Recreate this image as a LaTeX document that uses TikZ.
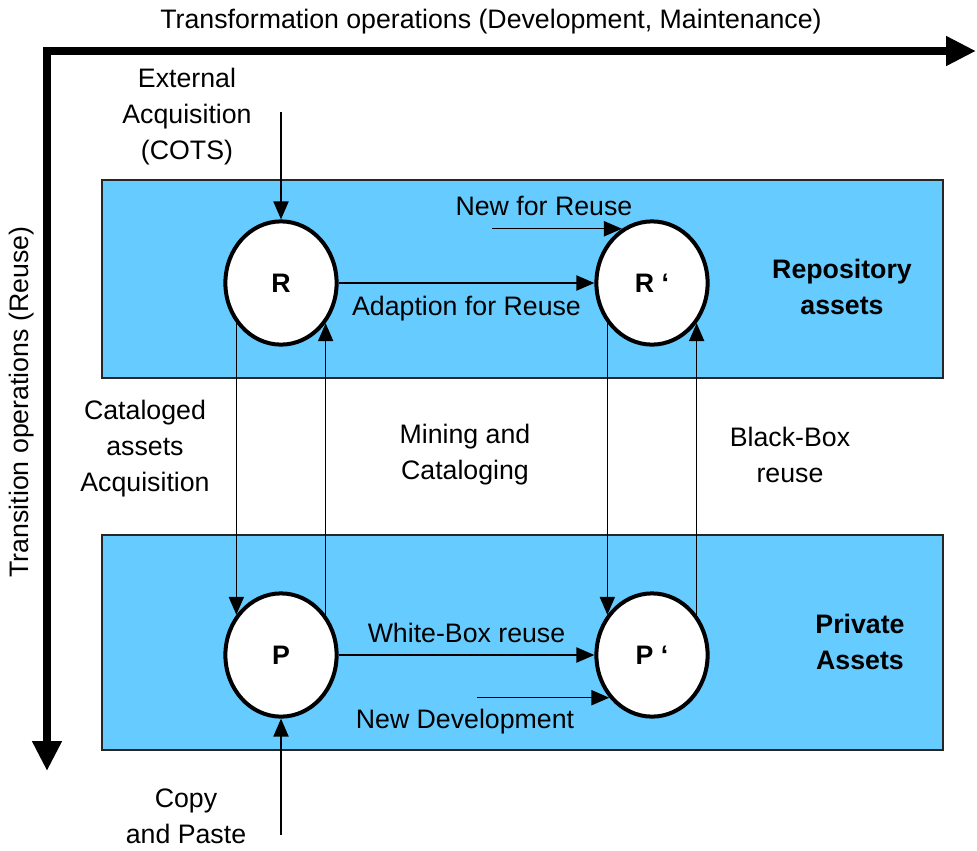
\documentclass[tikz,border=0pt]{standalone}
\usepackage{fontspec}
\setmainfont{Liberation Sans}
\usetikzlibrary{arrows.meta,shapes.geometric}

\definecolor{areablue}{RGB}{102,204,255}

\tikzset{%
  % Specifications for style of nodes:
         asset/.style = {ellipse, draw = black, line width=2.85pt, fill=white, minimum width=2.78cm, minimum height=3.08cm, inner sep=0pt, font=\fontsize{19pt}{25.6pt}\selectfont\bfseries},
         txt/.style = {align=center, inner sep=3pt},
         boldtxt/.style = {txt, font=\fontsize{19pt}{25.6pt}\selectfont\bfseries},
         area/.style = {draw = black!85, line width=0.9pt, fill=areablue},
         flow/.style = {-{Triangle[length=0.45cm, width=0.38cm]}, line width=1pt},
         axis/.style = {line width=0.2cm, {Triangle[length=0.75cm, width=0.7cm]}-{Triangle[length=0.75cm, width=0.7cm]}},
}

\begin{document}
\begin{tikzpicture}[x=0.025cm, y=-0.025cm, every node/.style={font=\fontsize{19pt}{25.6pt}\selectfont}]
    \useasboundingbox (0,0) rectangle (977,850);

    % Draw areas
    \draw[area] (102,180) rectangle (943,378);
    \draw[area] (102,535) rectangle (943,750);

    % Draw axes
    \coordinate (origin) at (47,51);
    \coordinate (xend)   at (976,51);
    \coordinate (yend)   at (47,771);
    \draw[axis] (xend) -- (origin) -- (yend);
    \node (transform) [txt]            at (491,22)  {Transformation operations (Development, Maintenance)};
    \node (transit)   [txt, rotate=90] at (22,402)  {Transition operations (Reuse)};

    % Draw nodes
    \node (R)  [asset] at (281,283) {R};
    \node (R2) [asset] at (652,283) {R ‘};
    \node (P)  [asset] at (281,655) {P};
    \node (P2) [asset] at (652,655) {P ‘};

    \node (repo)    [boldtxt] at (842,287) {Repository\\assets};
    \node (private) [boldtxt] at (860,642) {Private\\Assets};

    \node (ext)     [txt] at (187,117) {External\\Acquisition\\(COTS)};
    \node (catalog) [txt] at (145,449) {Cataloged\\assets\\Acquisition};
    \node (mining)  [txt] at (465,455) {Mining and\\Cataloging};
    \node (blackbox)[txt] at (790,455) {Black-Box\\reuse};
    \node (copy)    [txt] at (186,816) {Copy\\and Paste};
    \node (newdevtxt)[txt] at (465,722) {New Development};

    % Draw arrows
    \coordinate (extin)  at (281,112);
    \coordinate (copyin) at (281,835);
    \path (R2.119) ++(-130,0) coordinate (newreuse);
    \path (P2.225) ++(-132,0) coordinate (newdev);

    \draw[flow] (extin) -- (R);
    \draw[flow] (copyin) -- (P);
    \draw[flow] (R) -- node[txt, below=6pt] {Adaption for Reuse} (R2);
    \draw[flow] (P) -- node[txt, above=5pt] {White-Box reuse} (P2);
    \draw[flow] (newreuse) -- node[txt, above=6pt, pos=0.4] {New for Reuse} (R2.119);
    \draw[flow] (newdev) -- (P2.225);

    \draw[flow] (R.222) -- (P.138);
    \draw[flow] (P.42) -- (R.318);
    \draw[flow] (R2.222) -- (P2.138);
    \draw[flow] (P2.42) -- (R2.318);

\end{tikzpicture}
\end{document}
